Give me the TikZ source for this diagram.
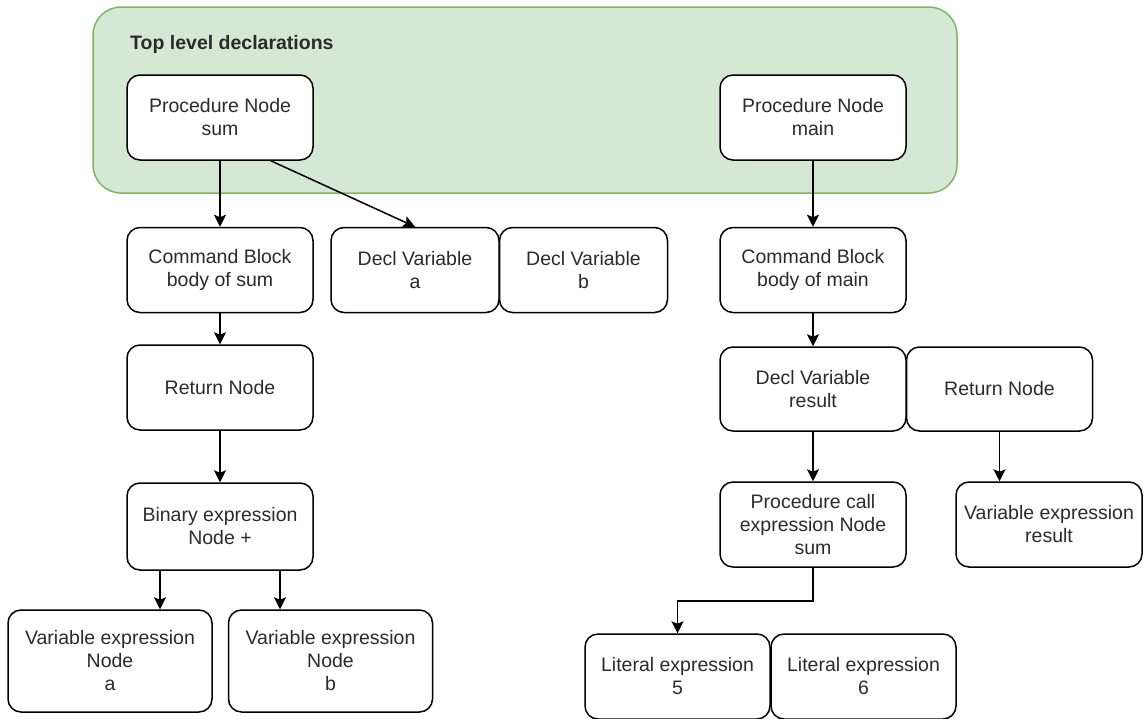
\documentclass[tikz,border=0pt]{standalone}
\usepackage{fontspec}
\setmainfont{Liberation Sans}
\usepackage{tikz}
\usetikzlibrary{arrows.meta}
\tikzset{>={Stealth[width=12pt,length=12pt,inset=2.5pt]}}
\definecolor{greenfill}{HTML}{D5E8D4}
\definecolor{greenline}{HTML}{82B366}
\definecolor{textgray}{HTML}{2B2B2B}

\tikzset{
  astnode/.style={draw=black, line width=1.5pt, fill=white, rounded corners=13pt,
    minimum width=186pt, minimum height=85pt, inner sep=0pt, align=center,
    font=\fontsize{19.5}{23}\selectfont, text=textgray},
  container/.style={draw=greenline, line width=1.5pt, fill=greenfill,
    rounded corners=28pt, minimum width=864pt, minimum height=186pt, inner sep=0pt},
  link/.style={->, line width=1.5pt}
}

\begin{document}
\begin{tikzpicture}[x=1pt, y=-1pt]
  \useasboundingbox (0,0) rectangle (1145,718);

  % top level block
  \node[container] (toplevel) at (525,100) {};
  \node[anchor=west, inner sep=0pt, font=\bfseries\fontsize{19.5}{23}\selectfont,
    text=textgray] (tllabel) at (130,44) {Top level declarations};

  \node[astnode] (psum)  at (220,117.5) {Procedure Node\\sum};
  \node[astnode] (pmain) at (813,117.5) {Procedure Node\\main};

  % body of sum
  \node[astnode] (cmdsum) at (220,270) {Command Block\\body of sum};
  \node[astnode, minimum width=168pt] (decla) at (415,270) {Decl Variable\\a};
  \node[astnode, minimum width=168pt] (declb) at (583.5,270) {Decl Variable\\b};
  \node[astnode] (retsum) at (220,387.5) {Return Node};
  \node[astnode, minimum height=87pt] (binexp) at (220,526.5)
  {Binary expression\\Node +};
  \node[astnode, minimum width=204pt, minimum height=102pt] (vara) at (110,661)
  {Variable expression\\Node\\a};
  \node[astnode, minimum width=204pt, minimum height=102pt] (varb) at (330.5,661)
  {Variable expression\\Node\\b};

  % body of main
  \node[astnode] (cmdmain) at (813,270) {Command Block\\body of main};
  \node[astnode, minimum height=84pt] (declres) at (813,389) {Decl Variable\\result};
  \node[astnode, minimum height=84pt] (retmain) at (999.5,389) {Return Node};
  \node[astnode] (pcall) at (813,524.5) {Procedure call\\expression Node\\sum};
  \node[astnode] (varres) at (1049,524.5) {Variable expression\\result};
  \node[astnode, minimum width=185pt] (lit5) at (677.5,676.5) {Literal expression\\5};
  \node[astnode, minimum width=185pt] (lit6) at (863.5,676.5) {Literal expression\\6};

  \draw[link] (psum) -- (cmdsum);
  \draw[link] ([xshift=-43pt]psum.south east) -- (decla.north);
  \draw[link] (cmdsum) -- (retsum);
  \draw[link] (retsum) -- (binexp);
  \draw[link] ([xshift=-60pt]binexp.south) -- ([xshift=-60pt]binexp.south |- vara.north);
  \draw[link] ([xshift=60pt]binexp.south) -- ([xshift=60pt]binexp.south |- varb.north);

  \draw[link] (pmain) -- (cmdmain);
  \draw[link] (cmdmain) -- (declres);
  \draw[link] (declres) -- (pcall);
  \draw[link] (retmain.south) -- (retmain.south |- varres.north);
  \draw[link] (pcall.south) -- ++(0,33) -| (lit5.north);
\end{tikzpicture}
\end{document}
